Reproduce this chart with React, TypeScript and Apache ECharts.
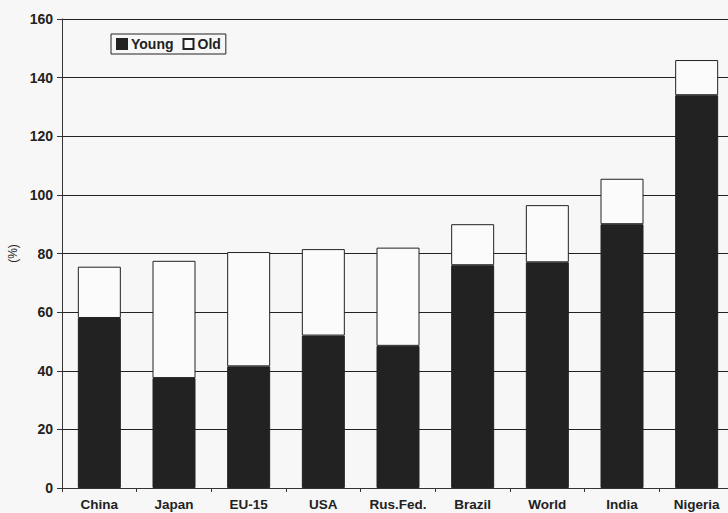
import React, { useEffect, useRef } from "react";
import * as echarts from "echarts";

const categories = ["China", "Japan", "EU-15", "USA", "Rus.Fed.", "Brazil", "World", "India", "Nigeria"];
const young = [58, 37.5, 41.5, 52, 48.5, 76, 77, 90, 134];
const old = [17.5, 40, 39, 29.5, 33.5, 14, 19.5, 15.5, 12];
const yTicks = { min: 0, max: 160, interval: 20 };

export default function App() {
  const ref = useRef<HTMLDivElement>(null);
  useEffect(() => {
    if (!ref.current) return;
    const chart = echarts.init(ref.current, null, { renderer: "svg" });
    const font = "'Liberation Sans', Arial, sans-serif";
    chart.setOption({
      animation: false,
      backgroundColor: "#f7f7f7",
      textStyle: { fontFamily: font },
      grid: { left: 62, top: 19, bottom: 25, right: -6, containLabel: false, outerBoundsMode: "none" },
      legend: {
        left: 111,
        top: 34,
        orient: "horizontal",
        itemWidth: 10,
        itemHeight: 10,
        itemGap: 9,
        padding: [3, 5, 3, 5],
        borderColor: "#222",
        borderWidth: 1,
        backgroundColor: "#f7f7f7",
        textStyle: { fontSize: 14, fontWeight: "bold", color: "#222", fontFamily: font, padding: [0, 0, 0, -1] },
        data: [
          { name: "Young", icon: "rect" },
          { name: "Old", icon: "rect" },
        ],
      },
      xAxis: {
        type: "category",
        data: categories,
        boundaryGap: true,
        axisLine: { lineStyle: { color: "#333", width: 1 } },
        axisTick: { show: true, alignWithLabel: false, length: 4, lineStyle: { color: "#333" } },
        axisLabel: { fontSize: 13.5, fontWeight: "bold", color: "#222", margin: 9, fontFamily: font, interval: 0 },
      },
      yAxis: {
        type: "value",
        min: yTicks.min,
        max: yTicks.max,
        interval: yTicks.interval,
        name: "(%)",
        nameLocation: "middle",
        nameRotate: 90,
        nameGap: 40,
        nameTextStyle: { fontSize: 12, color: "#222", fontFamily: font },
        axisLine: { show: true, lineStyle: { color: "#333", width: 1 } },
        axisTick: { show: true, inside: false, length: 5, lineStyle: { color: "#333" } },
        axisLabel: { fontSize: 14, fontWeight: "bold", color: "#222", margin: 9, fontFamily: font },
        splitLine: { show: true, lineStyle: { color: "#222", width: 1 } },
      },
      series: [
        {
          name: "Young",
          type: "bar",
          stack: "total",
          data: young,
          barWidth: 43,
          itemStyle: { color: "#222222", borderColor: "#222", borderWidth: 1 },
        },
        {
          name: "Old",
          type: "bar",
          stack: "total",
          data: old,
          barWidth: 43,
          itemStyle: { color: "#fbfbfb", borderColor: "#222", borderWidth: 1 },
        },
      ],
    });
    return () => chart.dispose();
  }, []);
  return <div ref={ref} style={{ width: 728, height: 513, position: "absolute", left: 0, top: 0 }} />;
}
